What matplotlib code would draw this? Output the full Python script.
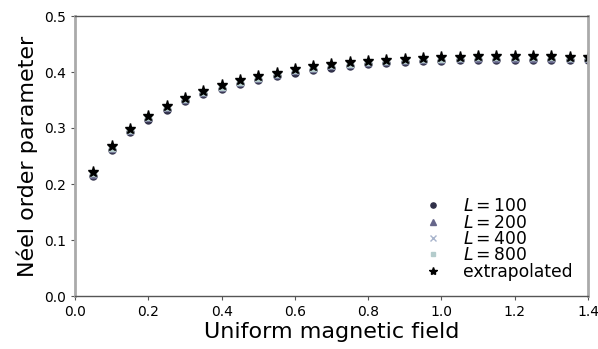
import matplotlib
matplotlib.use("Agg")
import matplotlib.pyplot as plt
import numpy as np

# uniform field values
FIELD = [0.05, 0.10, 0.15, 0.20, 0.25, 0.30, 0.35, 0.40, 0.45, 0.50,
         0.55, 0.60, 0.65, 0.70, 0.75, 0.80, 0.85, 0.90, 0.95, 1.00,
         1.05, 1.10, 1.15, 1.20, 1.25, 1.30, 1.35, 1.40]

# extrapolated order parameter
EXTRAP = [0.222, 0.268, 0.299, 0.321, 0.339, 0.354, 0.366, 0.376, 0.385, 0.392,
          0.399, 0.405, 0.410, 0.414, 0.417, 0.420, 0.422, 0.424, 0.425, 0.426,
          0.427, 0.428, 0.428, 0.428, 0.428, 0.428, 0.427, 0.427]

L100 = [0.214, 0.261, 0.292, 0.315, 0.333, 0.348, 0.360, 0.370, 0.379, 0.386,
        0.393, 0.399, 0.404, 0.408, 0.411, 0.414, 0.416, 0.418, 0.419, 0.420,
        0.421, 0.422, 0.422, 0.422, 0.422, 0.422, 0.421, 0.421]
L200 = [0.216, 0.263, 0.294, 0.317, 0.335, 0.350, 0.362, 0.372, 0.381, 0.388,
        0.395, 0.401, 0.406, 0.410, 0.413, 0.416, 0.418, 0.420, 0.421, 0.422,
        0.423, 0.424, 0.424, 0.424, 0.424, 0.424, 0.423, 0.423]
L400 = [0.218, 0.264, 0.295, 0.318, 0.336, 0.351, 0.363, 0.373, 0.382, 0.389,
        0.396, 0.402, 0.407, 0.411, 0.414, 0.417, 0.419, 0.421, 0.422, 0.423,
        0.424, 0.425, 0.425, 0.425, 0.425, 0.425, 0.424, 0.424]
L800 = [0.219, 0.265, 0.296, 0.319, 0.337, 0.352, 0.364, 0.374, 0.383, 0.390,
        0.397, 0.403, 0.408, 0.412, 0.415, 0.418, 0.420, 0.422, 0.423, 0.424,
        0.425, 0.426, 0.426, 0.426, 0.426, 0.426, 0.425, 0.425]

fig = plt.figure(figsize=(5.98, 3.49), dpi=100)
ax = fig.add_axes([75 / 598, 53 / 349, 513 / 598, 280 / 349])

ax.plot(FIELD, L100, "o", color="#2f2f48", ms=5, label=r"$L = 100$", ls="none")
ax.plot(FIELD, L200, "^", color="#66668a", ms=5, label=r"$L = 200$", ls="none")
ax.plot(FIELD, L400, "x", color="#a8b4cc", ms=5, mew=1, label=r"$L = 400$", ls="none")
ax.plot(FIELD, L800, "s", color="#b4cccc", ms=4.5, label=r"$L = 800$", ls="none")
ax.plot(FIELD, EXTRAP, "*", color="black", ms=8, label="extrapolated", ls="none")

ax.set_xlim(0, 1.4)
ax.set_ylim(0, 0.5)
ax.set_xticks(np.arange(0, 1.41, 0.2))
ax.set_yticks(np.arange(0, 0.51, 0.1))
ax.tick_params(labelsize=10, length=3, color="#555555")

for side in ["left", "right"]:
    ax.spines[side].set_color("#aaaaaa")
    ax.spines[side].set_linewidth(2)
for side in ["top", "bottom"]:
    ax.spines[side].set_color("#555555")
    ax.spines[side].set_linewidth(1)

ax.set_xlabel("Uniform magnetic field", fontsize=16, labelpad=2)
ax.set_ylabel("Néel order parameter", fontsize=16, labelpad=4)

ax.legend(loc="lower right", frameon=False, fontsize=12.3, labelspacing=-0.1,
          handletextpad=0.75, borderaxespad=0.6, borderpad=0.3, markerscale=0.75)

fig.savefig("out.png", dpi=100)
